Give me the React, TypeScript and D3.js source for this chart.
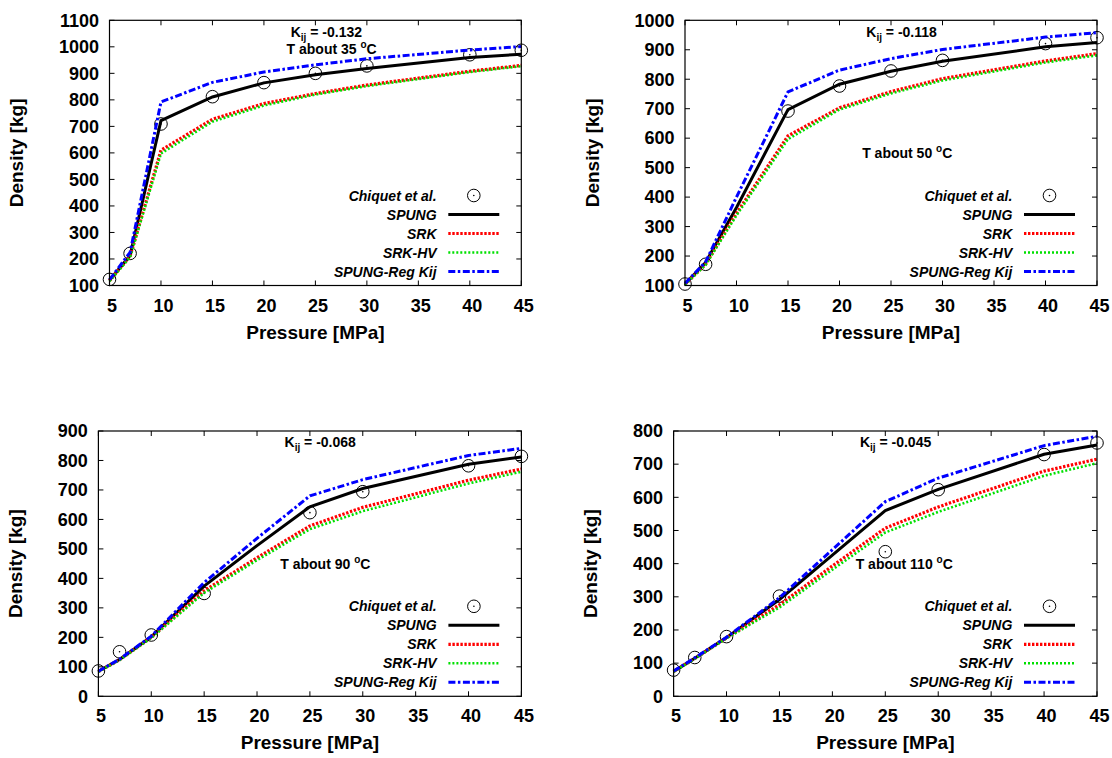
import React from 'react';
import * as d3 from 'd3';

// ---------- DATA ----------
const pressures = [5, 7, 10, 15, 20, 25, 30, 40, 45];
const xTickValues = [5, 10, 15, 20, 25, 30, 35, 40, 45];
const seriesNames = ['Chiquet et al.', 'SPUNG', 'SRK', 'SRK-HV', 'SPUNG-Reg Kij'];

// Panel 1 : T about 35 C
const p1Kij = '-0.132';
const p1Temp = '35';
const p1YTicks = [100, 200, 300, 400, 500, 600, 700, 800, 900, 1000, 1100];
const p1ExpP = [5, 7, 10, 15, 20, 25, 30, 40, 45];
const p1Exp = [123, 221, 709, 812, 865, 900, 928, 970, 987];
const p1Spung = [120, 213, 722, 811, 864, 895, 918, 960, 972];
const p1Srk = [118, 210, 610, 727, 786, 824, 856, 908, 930];
const p1SrkHv = [116, 207, 598, 718, 779, 820, 852, 905, 927];
const p1Reg = [122, 225, 792, 866, 905, 932, 955, 988, 1001];

// Panel 2 : T about 50 C
const p2Kij = '-0.118';
const p2Temp = '50';
const p2YTicks = [100, 200, 300, 400, 500, 600, 700, 800, 900, 1000];
const p2ExpP = [5, 7, 15, 20, 25, 30, 40, 45];
const p2Exp = [105, 172, 692, 777, 828, 864, 921, 941];
const p2Spung = [105, 178, 365, 697, 783, 827, 861, 910, 925];
const p2Srk = [104, 172, 345, 608, 703, 758, 802, 862, 887];
const p2SrkHv = [103, 170, 338, 597, 697, 752, 796, 857, 881];
const p2Reg = [107, 180, 400, 757, 831, 870, 901, 943, 958];

// Panel 3 : T about 90 C
const p3Kij = '-0.068';
const p3Temp = '90';
const p3YTicks = [0, 100, 200, 300, 400, 500, 600, 700, 800, 900];
const p3ExpP = [5, 7, 10, 15, 25, 30, 40, 45];
const p3Exp = [86, 151, 208, 349, 623, 694, 782, 814];
const p3Spung = [85, 125, 202, 374, 511, 643, 705, 787, 812];
const p3Srk = [84, 124, 200, 358, 470, 578, 641, 733, 771];
const p3SrkHv = [83, 123, 198, 351, 462, 567, 628, 722, 762];
const p3Reg = [85, 126, 204, 386, 536, 680, 735, 817, 841];

// Panel 4 : T about 110 C
const p4Kij = '-0.045';
const p4Temp = '110';
const p4YTicks = [0, 100, 200, 300, 400, 500, 600, 700, 800];
const p4ExpP = [5, 7, 10, 15, 25, 30, 40, 45];
const p4Exp = [79, 117, 180, 302, 436, 623, 729, 764];
const p4Spung = [75, 115, 177, 292, 426, 560, 624, 730, 758];
const p4Srk = [75, 114, 176, 276, 393, 507, 571, 679, 715];
const p4SrkHv = [74, 113, 175, 268, 382, 494, 556, 665, 703];
const p4Reg = [76, 116, 178, 297, 442, 587, 658, 756, 784];

// ---------- LAYOUT / STYLE ----------
const FONT = '"Liberation Sans", Arial, Helvetica, sans-serif';

const panels = [
  { kij: p1Kij, temp: p1Temp, yTicks: p1YTicks, expP: p1ExpP, exp: p1Exp, spung: p1Spung, srk: p1Srk, srkhv: p1SrkHv, reg: p1Reg,
    left: 109.5, right: 521.3, top: 20.3, bottom: 285.5, tempDy: 34 },
  { kij: p2Kij, temp: p2Temp, yTicks: p2YTicks, expP: p2ExpP, exp: p2Exp, spung: p2Spung, srk: p2Srk, srkhv: p2SrkHv, reg: p2Reg,
    left: 685, right: 1097, top: 20.3, bottom: 285.5, tempDy: 138 },
  { kij: p3Kij, temp: p3Temp, yTicks: p3YTicks, expP: p3ExpP, exp: p3Exp, spung: p3Spung, srk: p3Srk, srkhv: p3SrkHv, reg: p3Reg,
    left: 98.4, right: 521.4, top: 431, bottom: 696.3, tempDy: 138 },
  { kij: p4Kij, temp: p4Temp, yTicks: p4YTicks, expP: p4ExpP, exp: p4Exp, spung: p4Spung, srk: p4Srk, srkhv: p4SrkHv, reg: p4Reg,
    left: 673.6, right: 1097, top: 431, bottom: 696.3, tempDy: 138 },
];

const lineStyles = [
  { key: 'spung', stroke: '#000000', width: 3, dash: undefined as string | undefined },
  { key: 'srk', stroke: '#ff0000', width: 3.2, dash: '2.4 1.6' },
  { key: 'srkhv', stroke: '#00e000', width: 2.6, dash: '2 2' },
  { key: 'reg', stroke: '#0000ff', width: 3, dash: '7 2.5 2.5 2.5' },
];

function Marker({ cx, cy }: { cx: number; cy: number }) {
  return (
    <g>
      <circle cx={cx} cy={cy} r={6.3} fill="none" stroke="#000" strokeWidth={1} />
      <circle cx={cx} cy={cy} r={0.8} fill="#000" />
    </g>
  );
}

function Panel({ p }: { p: any }) {
  const x = d3.scaleLinear().domain([5, 45]).range([p.left, p.right]);
  const yMin = p.yTicks[0];
  const yMax = p.yTicks[p.yTicks.length - 1];
  const y = d3.scaleLinear().domain([yMin, yMax]).range([p.bottom, p.top]);
  const line = d3.line<number[]>().x((d) => x(d[0])).y((d) => y(d[1]));
  const tickLen = 5;
  const maxLabelLen = d3.max(p.yTicks.map((t: number) => String(t).length)) as number;
  const yTitleX = p.left - maxLabelLen * 10 - 46.5;
  const yTitleY = (p.top + p.bottom) / 2;
  const legendRowY = (i: number) => p.bottom - 14 - (4 - i) * 19;
  const sampleX1 = p.right - 73;
  const sampleX2 = p.right - 22;
  const legendTextX = p.right - 84.7;

  return (
    <g>
      {/* ticks */}
      {xTickValues.map((t) => (
        <g key={'xt' + t}>
          <line x1={x(t)} x2={x(t)} y1={p.bottom} y2={p.bottom - tickLen} stroke="#000" strokeWidth={1} />
          <line x1={x(t)} x2={x(t)} y1={p.top} y2={p.top + tickLen} stroke="#000" strokeWidth={1} />
          <text x={x(t) + 2.5} y={p.bottom + 26} textAnchor="middle" fontFamily={FONT} fontWeight="bold" fontSize={18} fill="#000">
            {t}
          </text>
        </g>
      ))}
      {p.yTicks.map((t: number) => (
        <g key={'yt' + t}>
          <line x1={p.left} x2={p.left + tickLen} y1={y(t)} y2={y(t)} stroke="#000" strokeWidth={1} />
          <line x1={p.right} x2={p.right - tickLen} y1={y(t)} y2={y(t)} stroke="#000" strokeWidth={1} />
          <text x={p.left - 10.5} y={y(t) + 6.3} textAnchor="end" fontFamily={FONT} fontWeight="bold" fontSize={18} fill="#000">
            {t}
          </text>
        </g>
      ))}

      {/* experimental points */}
      {p.expP.map((pp: number, i: number) => (
        <Marker key={'m' + i} cx={x(pp)} cy={y(p.exp[i])} />
      ))}

      {/* model lines */}
      {lineStyles.map((s) => (
        <path
          key={s.key}
          d={line(pressures.map((pp, i) => [pp, p[s.key][i]])) || ''}
          fill="none"
          stroke={s.stroke}
          strokeWidth={s.width}
          strokeDasharray={s.dash}
          strokeLinejoin="miter"
        />
      ))}

      {/* frame */}
      <rect x={p.left} y={p.top} width={p.right - p.left} height={p.bottom - p.top} fill="none" stroke="#000" strokeWidth={1.2} />

      {/* legend */}
      {seriesNames.map((name, i) => (
        <g key={'lg' + i}>
          <text x={legendTextX} y={legendRowY(i) + 5} textAnchor="end" fontFamily={FONT} fontWeight="bold" fontStyle="italic" fontSize={14} fill="#000">
            {name}
          </text>
          {i === 0 ? (
            <Marker cx={(sampleX1 + sampleX2) / 2} cy={legendRowY(i)} />
          ) : (
            <line
              x1={sampleX1}
              x2={sampleX2}
              y1={legendRowY(i)}
              y2={legendRowY(i)}
              stroke={lineStyles[i - 1].stroke}
              strokeWidth={lineStyles[i - 1].width}
              strokeDasharray={lineStyles[i - 1].dash}
            />
          )}
        </g>
      ))}

      {/* annotations */}
      <text x={x(22.6)} y={p.top + 16.3} fontFamily={FONT} fontWeight="bold" fontSize={14} fill="#000">
        K
        <tspan fontSize={10} dy={4}>ij</tspan>
        <tspan dy={-4}>{' = ' + p.kij}</tspan>
      </text>
      <text x={x(22.2)} y={p.top + p.tempDy} fontFamily={FONT} fontWeight="bold" fontSize={14} fill="#000">
        {'T about ' + p.temp + ' '}
        <tspan fontSize={10} dy={-6}>o</tspan>
        <tspan dy={6}>C</tspan>
      </text>

      {/* axis titles */}
      <text x={(p.left + p.right) / 2} y={p.bottom + 53} textAnchor="middle" fontFamily={FONT} fontWeight="bold" fontSize={19} fill="#000">
        Pressure [MPa]
      </text>
      <text
        transform={`translate(${yTitleX},${yTitleY}) rotate(-90)`}
        x={0}
        y={0}
        textAnchor="middle"
        fontFamily={FONT}
        fontWeight="bold"
        fontSize={19}
        fill="#000"
      >
        Density [kg]
      </text>
    </g>
  );
}

export default function App() {
  return (
    <div style={{ position: 'absolute', left: 0, top: 0 }}>
      <svg width={1112} height={758} viewBox="0 0 1112 758" style={{ display: 'block', background: '#fff' }}>
        <rect x={0} y={0} width={1112} height={758} fill="#fff" />
        {panels.map((p, i) => (
          <Panel key={i} p={p} />
        ))}
      </svg>
    </div>
  );
}
